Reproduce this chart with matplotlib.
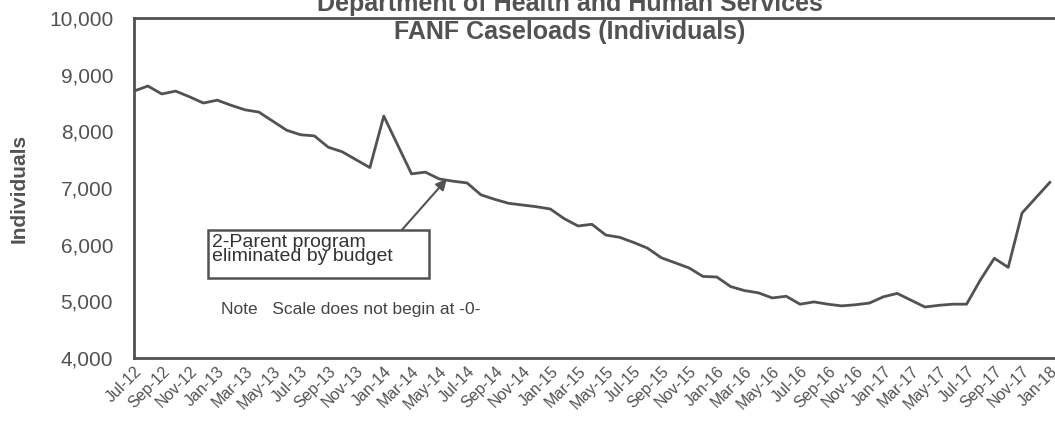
import matplotlib
matplotlib.use("Agg")
import matplotlib.pyplot as plt
from matplotlib.patches import Rectangle

plt.rcParams['font.family'] = ['Liberation Sans', 'DejaVu Sans']

# monthly caseloads, Jul-12 .. Jan-18
months = ['Jul-12', 'Aug-12', 'Sep-12', 'Oct-12', 'Nov-12', 'Dec-12',
          'Jan-13', 'Feb-13', 'Mar-13', 'Apr-13', 'May-13', 'Jun-13',
          'Jul-13', 'Aug-13', 'Sep-13', 'Oct-13', 'Nov-13', 'Dec-13',
          'Jan-14', 'Feb-14', 'Mar-14', 'Apr-14', 'May-14', 'Jun-14',
          'Jul-14', 'Aug-14', 'Sep-14', 'Oct-14', 'Nov-14', 'Dec-14',
          'Jan-15', 'Feb-15', 'Mar-15', 'Apr-15', 'May-15', 'Jun-15',
          'Jul-15', 'Aug-15', 'Sep-15', 'Oct-15', 'Nov-15', 'Dec-15',
          'Jan-16', 'Feb-16', 'Mar-16', 'Apr-16', 'May-16', 'Jun-16',
          'Jul-16', 'Aug-16', 'Sep-16', 'Oct-16', 'Nov-16', 'Dec-16',
          'Jan-17', 'Feb-17', 'Mar-17', 'Apr-17', 'May-17', 'Jun-17',
          'Jul-17', 'Aug-17', 'Sep-17', 'Oct-17', 'Nov-17', 'Dec-17',
          'Jan-18']
individuals = [8710, 8800, 8660, 8710, 8610, 8500,
               8550, 8460, 8380, 8340, 8180, 8020,
               7940, 7920, 7720, 7640, 7500, 7360,
               8270, 7760, 7250, 7280, 7160, 7120,
               7090, 6880, 6800, 6730, 6700, 6670,
               6630, 6460, 6330, 6360, 6170, 6130,
               6040, 5940, 5770, 5680, 5590, 5440,
               5430, 5260, 5190, 5150, 5060, 5090,
               4950, 4990, 4950, 4920, 4940, 4970,
               5080, 5140, 5020, 4900, 4930, 4950,
               4950, 5380, 5760, 5600, 6560, 6830,
               7100]
yticks = [4000, 5000, 6000, 7000, 8000, 9000, 10000]

grey = '#525252'

fig = plt.figure(figsize=(10.55, 4.21), dpi=100)
ax = fig.add_axes([0.127, 0.1496, 0.876, 0.8076])

x = list(range(len(months)))
ax.plot(x, individuals, color=grey, linewidth=2)

ax.set_xlim(0, 66.6)
ax.set_ylim(4000, 10000)
ax.set_yticks(yticks)
ax.set_yticklabels(['{:,}'.format(v) for v in yticks], fontsize=15, color=grey)
ax.set_xticks(x[::2])
ax.set_xticklabels(months[::2], rotation=45, ha='right', rotation_mode='anchor',
                   fontsize=11.5, color=grey)
ax.tick_params(length=0, pad=15, axis='y')
ax.tick_params(length=0, pad=4, axis='x')
for s in ax.spines.values():
    s.set_color(grey)
    s.set_linewidth(2)

ax.set_ylabel('Individuals', fontsize=15, fontweight='bold', color=grey)
ax.yaxis.set_label_coords(-0.1145, 0.5)

fig.text(0.54, 0.991, 'Department of Health and Human Services', ha='center', va='center',
         fontsize=18, fontweight='bold', color=grey)
fig.text(0.54, 0.924, 'FANF Caseloads (Individuals)', ha='center', va='center',
         fontsize=18, fontweight='bold', color=grey)

# annotation box with arrow to the 2-parent cut
ax.add_patch(Rectangle((5.33, 5412), 15.9, 847, fill=False, ec=grey, lw=1.8))
ax.text(5.6, 5920, '2-Parent program\neliminated by budget', fontsize=14,
        color='#333333', linespacing=0.8, ha='left', va='center')
ax.annotate('', xy=(22.55, 7160), xytext=(19.3, 6259),
            arrowprops=dict(arrowstyle='-|>', color=grey, lw=1.5, mutation_scale=16,
                            shrinkA=0, shrinkB=0))
ax.text(6.3, 4865, 'Note   Scale does not begin at -0-', fontsize=12.5, color='#444444',
        va='center')

fig.savefig('out.png', dpi=100)
